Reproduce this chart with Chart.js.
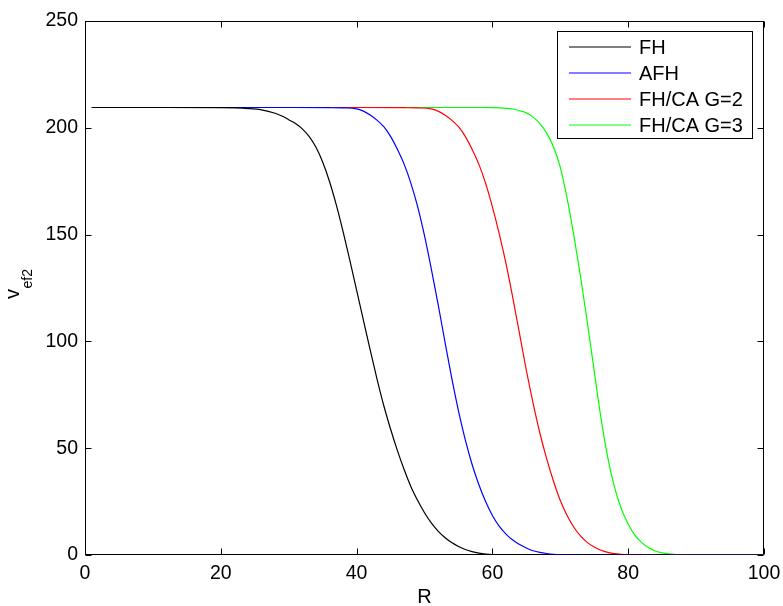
<!DOCTYPE html>
<html>
<head>
<meta charset="utf-8">
<script src="https://cdn.jsdelivr.net/npm/chart.js@4.4.1/dist/chart.umd.min.js"></script>
<style>
  html, body { margin: 0; padding: 0; background: #fff; }
  canvas { display: block; }
</style>
</head>
<body>
<canvas id="chart" width="783" height="606"></canvas>
<script>
// values (R on x, v_ef2 on y)
const rFH = [1, 10, 20, 24, 26, 28, 29, 30, 31, 32, 33, 34, 35, 36, 37, 38, 39, 40, 41, 42, 43, 44, 45, 46, 47, 48, 49, 50, 51, 52, 53, 54, 55, 56, 57, 58, 59, 60, 62, 65, 100];
const vFH = [209.5, 209.5, 209.4, 209, 208.4, 206.8, 205.5, 203.8, 202, 199.5, 196, 191, 184, 175, 164, 151.5, 138, 124, 110, 96, 82.5, 70, 59, 49, 40, 32, 25.5, 19.8, 15, 11.2, 8.2, 5.8, 4, 2.6, 1.6, 0.9, 0.45, 0.2, 0.03, 0, 0];

const rAFH = [1, 30, 36, 38, 40, 41, 42, 43, 44, 45, 46, 47, 48, 49, 50, 51, 52, 53, 54, 55, 56, 57, 58, 59, 60, 61, 62, 63, 64, 65, 66, 67, 68, 69, 70, 72, 75, 100];
const vAFH = [209.5, 209.5, 209.4, 209.3, 208.9, 207.8, 206, 203.6, 200.5, 196, 190, 183, 174, 163, 149.5, 134, 117.5, 100, 83, 67.5, 54, 42.5, 33, 25, 18.5, 13.5, 9.8, 7, 4.9, 3.3, 2, 1.2, 0.7, 0.35, 0.15, 0.03, 0, 0];

const rG2 = [1, 40, 47, 49, 51, 52, 53, 54, 55, 56, 57, 58, 59, 60, 61, 62, 63, 64, 65, 66, 67, 68, 69, 70, 71, 72, 73, 74, 75, 76, 77, 78, 79, 80, 82, 85, 100];
const vG2 = [209.5, 209.5, 209.4, 209.3, 208.9, 207.8, 206, 203.6, 200.5, 196, 190, 183, 174, 163, 150.5, 136.5, 120.5, 103.5, 86.5, 71, 57, 45, 34.5, 25.5, 18.5, 13, 8.8, 5.8, 3.7, 2.2, 1.2, 0.6, 0.3, 0.12, 0.02, 0, 0];

const rG3 = [1, 50, 58, 60, 62, 63, 64, 65, 66, 67, 68, 69, 70, 71, 72, 73, 74, 75, 76, 77, 78, 79, 80, 81, 82, 83, 84, 85, 86, 87, 88, 90, 100];
const vG3 = [209.5, 209.5, 209.5, 209.4, 209.1, 208.8, 208, 207, 205, 202, 197.5, 191, 181.5, 167, 149.5, 130, 108.5, 86, 64, 45.5, 31.5, 21.5, 14.5, 9.2, 5.8, 3.4, 1.9, 1, 0.5, 0.2, 0.08, 0, 0];

const seriesNames = ["FH", "AFH", "FH/CA G=2", "FH/CA G=3"];
const seriesColors = ["#000000", "#0000ff", "#ff0000", "#00ff00"];

const xTicks = [0, 20, 40, 60, 80, 100];
const yTicks = [0, 50, 100, 150, 200, 250];

const FONT = "'Liberation Sans', Arial, Helvetica, sans-serif";

const toPoints = (rs, vs) => rs.map((r, i) => ({x: r, y: vs[i]}));

const seriesData = [toPoints(rFH, vFH), toPoints(rAFH, vAFH), toPoints(rG2, vG2), toPoints(rG3, vG3)];

// box round the axes with inward ticks, like the original
const framePlugin = {
    id: "frame",
    beforeDatasetsDraw(chart) {
        const {ctx, chartArea: a, scales} = chart;
        const L = Math.round(a.left) + 0.5, R = Math.round(a.right) - 0.5;
        const T = Math.round(a.top) + 0.5, B = Math.round(a.bottom) - 0.5;
        ctx.save();
        ctx.strokeStyle = "#000";
        ctx.lineWidth = 1;
        ctx.strokeRect(L, T, R - L, B - T);
        ctx.beginPath();
        xTicks.forEach(v => {
            const px = Math.round(scales.x.getPixelForValue(v)) + 0.5;
            ctx.moveTo(px, B); ctx.lineTo(px, B - 6);
            ctx.moveTo(px, T); ctx.lineTo(px, T + 6);
        });
        yTicks.forEach(v => {
            const py = Math.round(scales.y.getPixelForValue(v)) + 0.5;
            ctx.moveTo(L, py); ctx.lineTo(L + 6, py);
            ctx.moveTo(R, py); ctx.lineTo(R - 6, py);
        });
        ctx.stroke();
        ctx.restore();
    },
    afterDatasetsDraw(chart) {
        const {ctx} = chart;
        ctx.save();
        // y title with subscript
        ctx.fillStyle = "#000";
        ctx.translate(18.5, 299);
        ctx.rotate(-Math.PI / 2);
        ctx.textBaseline = "alphabetic";
        ctx.textAlign = "left";
        ctx.font = "20px " + FONT;
        ctx.fillText("v", 0, 0);
        const vw = ctx.measureText("v").width;
        ctx.font = "14px " + FONT;
        ctx.fillText("ef2", vw + 0.5, 13);
        ctx.restore();

        // legend box
        ctx.save();
        const bx = 557.5, by = 31.5, bw = 195, bh = 107;
        ctx.fillStyle = "#fff";
        ctx.fillRect(bx, by, bw, bh);
        ctx.strokeStyle = "#000";
        ctx.lineWidth = 1;
        ctx.strokeRect(bx, by, bw, bh);
        ctx.font = "20px " + FONT;
        ctx.textBaseline = "middle";
        ctx.textAlign = "left";
        chart.data.datasets.forEach((ds, i) => {
            const y = 47 + i * 26;
            ctx.strokeStyle = ds.borderColor;
            ctx.lineWidth = 1.2;
            ctx.beginPath();
            ctx.moveTo(569, y);
            ctx.lineTo(631, y);
            ctx.stroke();
            ctx.fillStyle = "#000";
            ctx.fillText(ds.label, 639, y + 1);
        });
        ctx.restore();
    }
};

const tickFont = {family: FONT, size: 19.5};

new Chart(document.getElementById("chart"), {
    type: "line",
    data: {
        datasets: seriesNames.map((name, i) => ({
            label: name,
            data: seriesData[i],
            borderColor: seriesColors[i],
            backgroundColor: seriesColors[i],
            borderWidth: 1.2,
            pointRadius: 0,
            fill: false,
            cubicInterpolationMode: "monotone",
        })),
    },
    options: {
        responsive: false,
        animation: false,
        layout: {padding: {top: 21, right: 19, bottom: 0, left: 0}},
        plugins: {
            legend: {display: false},
            tooltip: {enabled: false},
        },
        scales: {
            x: {
                type: "linear",
                min: 0,
                max: 100,
                afterBuildTicks: (s) => { s.ticks = xTicks.map(v => ({value: v})); },
                ticks: {color: "#000", font: tickFont, padding: 7, maxRotation: 0, autoSkip: false},
                grid: {display: false, drawTicks: false},
                border: {display: false},
                title: {display: true, text: "R", color: "#000", font: {family: FONT, size: 20}, padding: {top: 0, bottom: -3}},
                afterFit: (s) => { s.height = 51; s.paddingLeft = 0; s.paddingRight = 0; },
            },
            y: {
                type: "linear",
                min: 0,
                max: 250,
                afterBuildTicks: (s) => { s.ticks = yTicks.map(v => ({value: v})); },
                ticks: {color: "#000", font: tickFont, padding: 7, autoSkip: false},
                grid: {display: false, drawTicks: false},
                border: {display: false},
                afterFit: (s) => { s.width = 85; s.paddingTop = 0; s.paddingBottom = 0; },
            },
        },
    },
    plugins: [framePlugin],
});
</script>
</body>
</html>
